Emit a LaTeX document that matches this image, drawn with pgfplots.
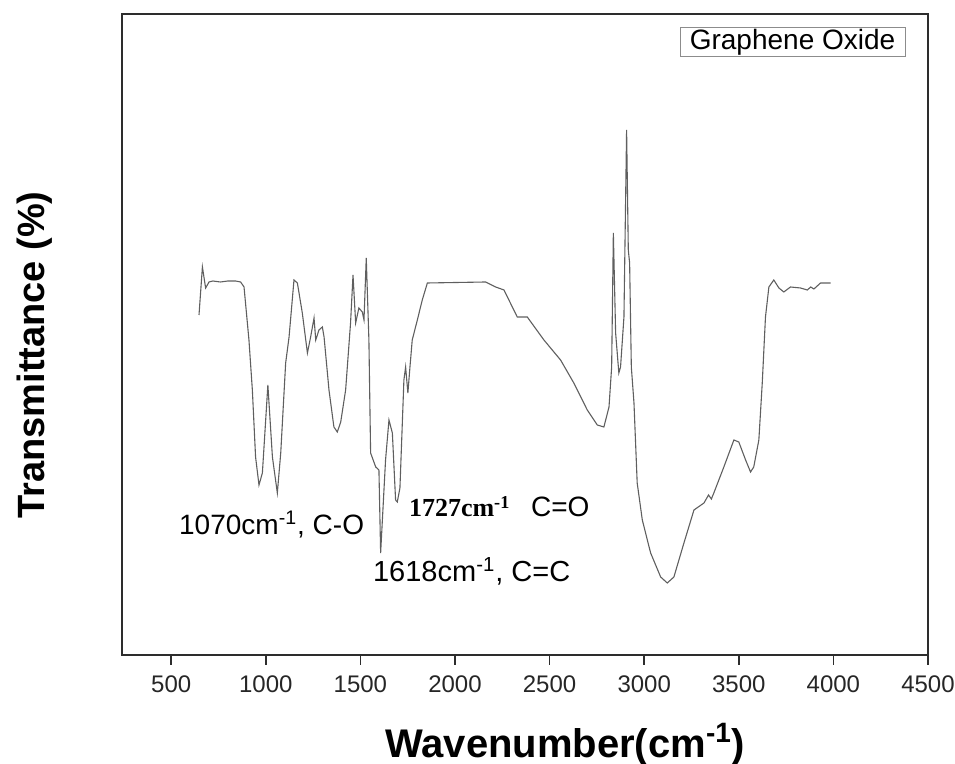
\documentclass[border=0pt]{standalone}
\usepackage{pgfplots}
\pgfplotsset{compat=1.18}
\usepackage{fontspec}
\setmainfont{Liberation Sans}
\newfontfamily\timesfont{Liberation Serif}
\definecolor{curve}{RGB}{95,95,95}
\definecolor{axline}{RGB}{45,45,45}
\begin{document}
\begin{tikzpicture}
\begin{axis}[
  at={(0,0)}, anchor=south west,
  scale only axis, width=403pt, height=320.5pt,
  xmin=240, xmax=4500, ymin=0, ymax=641,
  xtick={500,1000,1500,2000,2500,3000,3500,4000,4500},
  ytick=\empty,
  xtick pos=bottom, xtick align=outside,
  major tick length=5pt,
  axis line style={color=axline, line width=1pt},
  every tick/.style={color=axline, line width=0.8pt},
  /pgf/number format/assume math mode=true,
  /pgf/number format/1000 sep={},
  xticklabel style={font=\fontsize{12}{14}\selectfont, color=black!85, yshift=-2pt},
  xlabel={\textbf{Wavenumber(cm\textsuperscript{-1})}},
  xlabel style={at={(axis description cs:0.55,-0.14)}, anchor=center, font=\fontsize{20}{24}\selectfont},
  ylabel={\textbf{Transmittance (\%)}},
  ylabel style={at={(axis description cs:-0.108,0.468)}, anchor=center, font=\fontsize{19}{23}\selectfont},
  clip=false,
]
\addplot[color=curve, line width=0.55pt, mark=none] coordinates {
(647,340) (665,388) (682,367) (700,373) (720,374) (760,373) (800,374) (840,374)
(867,373) (885,368) (911,315) (929,265) (946,198) (964,170) (982,182) (1011,270)
(1035,198) (1061,162) (1079,202) (1105,292) (1123,318) (1149,375) (1167,372)
(1193,342) (1220,302) (1237,318) (1255,337) (1264,315) (1281,325) (1299,328)
(1308,318) (1334,265) (1360,228) (1378,223) (1396,233) (1422,265) (1448,332)
(1461,380) (1475,332) (1492,347) (1510,343) (1519,335) (1531,397) (1545,315)
(1554,202) (1581,188) (1598,185) (1607,102) (1633,195) (1651,235) (1669,222)
(1686,155) (1695,153) (1709,167) (1730,275) (1739,288) (1751,262) (1762,288)
(1774,315) (1801,335) (1827,355) (1854,372) (2162,373) (2215,368) (2259,365)
(2303,348) (2329,338) (2382,338) (2470,315) (2558,295) (2628,272) (2699,245)
(2752,230) (2787,228) (2814,248) (2828,288) (2837,422) (2849,322) (2866,282)
(2875,288) (2893,338) (2907,525) (2916,405) (2923,392) (2932,288) (2946,252)
(2963,172) (2990,135) (3034,102) (3087,78) (3122,72) (3157,78) (3210,112)
(3263,145) (3316,152) (3340,160) (3355,156) (3368,162) (3421,188) (3474,215) (3500,213) (3536,195)
(3562,183) (3579,188) (3606,215) (3624,272) (3641,338) (3659,368) (3685,375)
(3712,367) (3738,363) (3773,368) (3826,367) (3862,365) (3880,368) (3897,366) (3932,372)
(3985,372)
};
\node[anchor=base west, inner sep=0, font=\fontsize{14}{16}\selectfont] at (axis cs:540,120) {1070cm\textsuperscript{-1}, C-O};
\node[anchor=base west, inner sep=0, font=\fontsize{13}{15}\selectfont\timesfont\bfseries] at (axis cs:1755,138) {1727cm\textsuperscript{-1}};
\node[anchor=base west, inner sep=0, font=\fontsize{14}{16}\selectfont] at (axis cs:2400,138) {C=O};
\node[anchor=base west, inner sep=0, font=\fontsize{14.5}{16}\selectfont] at (axis cs:1565,73) {1618cm\textsuperscript{-1}, C=C};
\node[draw=black!45, line width=0.5pt, minimum width=112.5pt, minimum height=14.5pt, inner sep=0, font=\fontsize{14}{16}\selectfont] at (axis cs:3784,613) {Graphene Oxide};
\end{axis}
\pgfresetboundingbox
\path (-61pt,-54.5pt) rectangle (416.5pt,327.5pt);
\end{tikzpicture}
\end{document}
